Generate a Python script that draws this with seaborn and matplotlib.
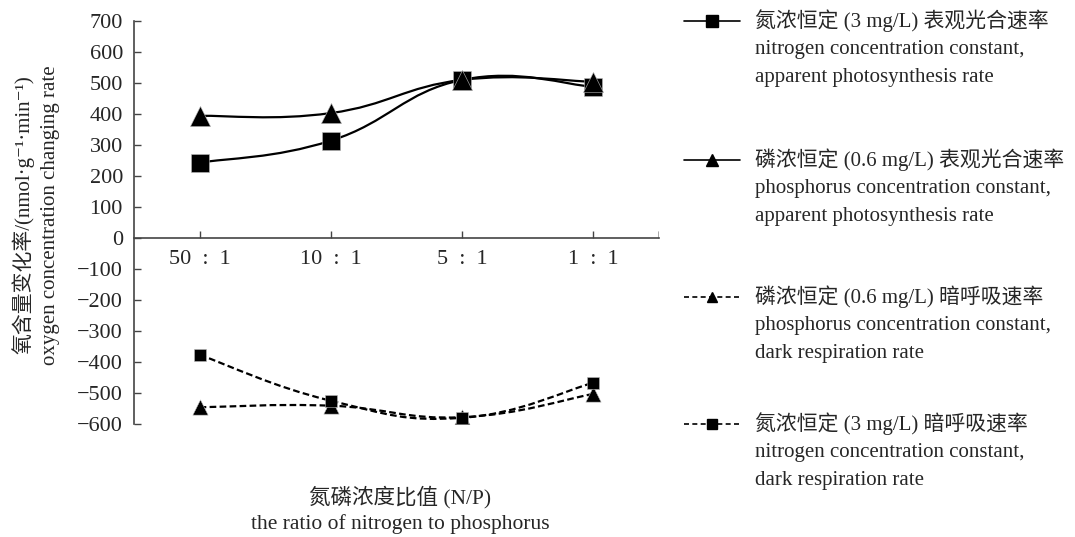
import matplotlib.pyplot as plt
import seaborn as sns
import numpy as np
import pandas as pd
from matplotlib.path import Path
from matplotlib.patches import PathPatch
from matplotlib.lines import Line2D

sns.set_style("white")
plt.rcParams['font.family'] = ['Liberation Serif', 'Noto Sans CJK SC', 'DejaVu Sans']

# Data
ratios = ["50 : 1", "10 : 1", "5 : 1", "1 : 1"]
n_photo = [243, 314, 510, 488]      # 氮浓恒定 表观光合速率
p_photo = [394, 403, 510, 504]      # 磷浓恒定 表观光合速率
p_dark = [-546, -541, -578, -503]   # 磷浓恒定 暗呼吸速率
n_dark = [-377, -525, -580, -467]   # 氮浓恒定 暗呼吸速率

labels = [
    "氮浓恒定 (3 mg/L) 表观光合速率\nnitrogen concentration constant,\napparent photosynthesis rate",
    "磷浓恒定 (0.6 mg/L) 表观光合速率\nphosphorus concentration constant,\napparent photosynthesis rate",
    "磷浓恒定 (0.6 mg/L) 暗呼吸速率\nphosphorus concentration constant,\ndark respiration rate",
    "氮浓恒定 (3 mg/L) 暗呼吸速率\nnitrogen concentration constant,\ndark respiration rate",
]


def smooth_path(xs, ys, k=0.22):
    # Excel-like smoothed line: cubic Bezier through the points
    pts = np.column_stack([xs, ys]).astype(float)
    ext = np.vstack([pts[0], pts, pts[-1]])
    verts = [pts[0]]
    codes = [Path.MOVETO]
    for i in range(len(pts) - 1):
        p0, p1, p2, p3 = ext[i], ext[i + 1], ext[i + 2], ext[i + 3]
        verts += [p1 + (p2 - p0) * k, p2 - (p3 - p1) * k, p2]
        codes += [Path.CURVE4] * 3
    return Path(verts, codes)


fig = plt.figure(figsize=(10.75, 5.37), dpi=100)
ax = fig.add_axes([134 / 1075, 1 - 424 / 537, (659 - 134) / 1075, (424 - 21) / 537])

x = np.arange(len(ratios))
series = [
    (n_photo, "s", 13, "-"),
    (p_photo, "^", 14.5, "-"),
    (p_dark, "^", 11, (0, (3, 1.5))),
    (n_dark, "s", 8, (0, (3, 1.5))),
]
for vals, mk, ms, ls in series:
    ax.add_patch(PathPatch(smooth_path(x, vals), fill=False, edgecolor="black",
                           linewidth=1.6, linestyle=ls, zorder=2))
    df = pd.DataFrame({"x": x, "y": vals})
    sns.scatterplot(data=df, x="x", y="y", marker=mk, s=ms ** 2, color="black",
                    edgecolor="#bbbbbb", linewidth=0.4, ax=ax, zorder=3)

ax.set_xlim(-0.5, 3.5)
ax.set_ylim(-600, 700)
ax.set_yticks(range(-600, 701, 100))
ax.set_yticklabels([str(v).replace("-", "−") for v in range(-600, 701, 100)])
ax.set_xticks(x)
ax.set_xticklabels([r.replace(" ", "\u2002") for r in ratios])
ax.set_xlabel("")
ax.set_ylabel("")

for s in ["top", "right"]:
    ax.spines[s].set_visible(False)
ax.spines["bottom"].set_position(("data", 0))
for s in ["left", "bottom"]:
    ax.spines[s].set_color("#444444")
    ax.spines[s].set_linewidth(1.2)
ax.tick_params(axis="y", direction="in", length=5, width=1, color="#444444",
               labelsize=16, pad=8, left=True)
ax.tick_params(axis="x", direction="in", length=5, width=1, color="#444444",
               labelsize=16, pad=9, bottom=True)
ax.axvline(3.5, ymin=600 / 1300, ymax=(600 + 18) / 1300, color="#999999", lw=1.2)

fig.text(36 / 1075, 1 - 215 / 537,
         "氧含量变化率/(nmol·g⁻¹·min⁻¹)\noxygen concentration changing rate",
         rotation=90, ha="center", va="center", fontsize=15, linespacing=1.45)
fig.text(400 / 1075, 1 - 510 / 537,
         "氮磷浓度比值 (N/P)\nthe ratio of nitrogen to phosphorus",
         ha="center", va="center", fontsize=15.5, linespacing=1.4)

# legend drawn by hand so the handle sits next to the first text line
entry_y = [21, 160, 297, 424]
handles = [("-", "s", 8), ("-", "^", 8), ((0, (3, 2)), "^", 7), ((0, (3, 2)), "s", 7)]
for yy, (ls, mk, ms), lab in zip(entry_y, handles, labels):
    fy = 1 - yy / 537
    fig.add_artist(Line2D([684 / 1075, 740 / 1075], [fy, fy], transform=fig.transFigure,
                          color="black", linewidth=1.2, linestyle=ls))
    fig.add_artist(Line2D([712 / 1075], [fy], transform=fig.transFigure, color="black",
                          marker=mk, markersize=ms, linestyle=""))
    fig.text(755 / 1075, fy + 12 / 537, lab, ha="left", va="top", fontsize=15,
             linespacing=1.62)

fig.savefig("out.png", dpi=100)
